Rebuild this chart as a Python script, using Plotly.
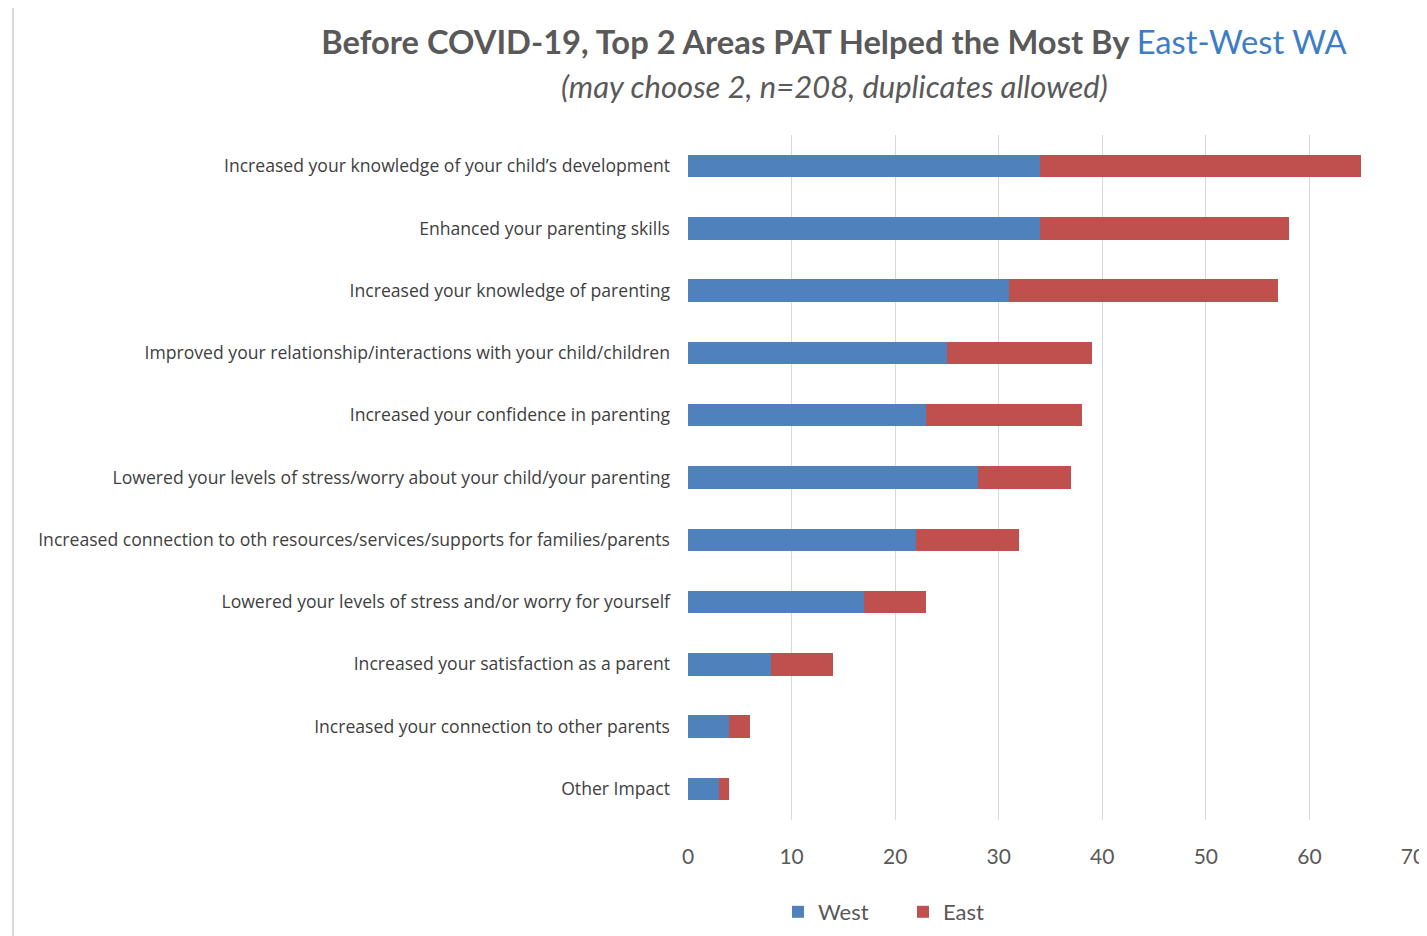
import plotly.graph_objects as go

categories = [
    "Increased your knowledge of your child\u2019s development",
    "Enhanced your parenting skills",
    "Increased your knowledge of parenting",
    "Improved your relationship/interactions with your child/children",
    "Increased your confidence in parenting",
    "Lowered your levels of stress/worry about your child/your parenting",
    "Increased connection to oth resources/services/supports for families/parents",
    "Lowered your levels of stress and/or worry for yourself",
    "Increased your satisfaction as a parent",
    "Increased your connection to other parents",
    "Other Impact",
]
west = [34, 34, 31, 25, 23, 28, 22, 17, 8, 4, 3]
east = [31, 24, 26, 14, 15, 9, 10, 6, 6, 2, 1]
x_ticks = [0, 10, 20, 30, 40, 50, 60, 70]

# page body has an 8px margin, so the figure sits at (8, 8)
OFF = 8
W, H = 1427 - OFF, 936 - OFF
L, R, T, B = 688 - OFF, 14, 135 - OFF, 936 - 820
PW, PH = W - L - R, H - T - B


def px_x(x):
    return (x - OFF - L) / PW


def px_y(y):
    return (H - B - (y - OFF)) / PH


fig = go.Figure()
fig.add_trace(go.Bar(y=categories, x=west, name="West", orientation="h",
                     marker=dict(color="#4F81BD", line=dict(width=0))))
fig.add_trace(go.Bar(y=categories, x=east, name="East", orientation="h",
                     marker=dict(color="#C0504D", line=dict(width=0))))

fig.update_layout(
    width=W, height=H,
    barmode="stack", bargap=0.64,
    margin=dict(l=L, r=R, t=T, b=B, autoexpand=False),
    paper_bgcolor="white", plot_bgcolor="white",
    font=dict(family="Lato, Open Sans, sans-serif", color="#404040"),
    title=dict(
        text="<b>Before COVID-19, Top 2 Areas PAT Helped the Most By </b><span style='color:#3D7DC3'>East-West WA</span>",
        x=(834 - OFF) / W, xanchor="center", y=1 - (43 - OFF) / H, yanchor="middle",
        font=dict(size=32.7, color="#595959", family="Lato, Open Sans, sans-serif"),
    ),
    legend=dict(orientation="h", x=px_x(778), xanchor="left",
                y=px_y(912), yanchor="middle",
                font=dict(size=22, color="#595959"), traceorder="normal",
                itemwidth=30, entrywidth=80),
    showlegend=True,
)
fig.add_annotation(
    text="<i>(may choose 2, n=208, duplicates allowed)</i>",
    xref="paper", yref="paper",
    x=px_x(834), y=px_y(86),
    xanchor="center", yanchor="middle", showarrow=False,
    font=dict(size=31, color="#595959"),
)
# faint frame edge on the left of the picture
fig.add_shape(type="line", xref="paper", yref="paper",
              x0=px_x(13), x1=px_x(13), y0=px_y(3), y1=px_y(940),
              line=dict(color="#DADADA", width=2))
fig.update_xaxes(range=[0, 70], tickvals=x_ticks, showgrid=True, gridcolor="#D9D9D9",
                 gridwidth=1, zeroline=False, showline=False, automargin=False,
                 tickfont=dict(size=21, color="#595959"), ticklabelstandoff=22)
fig.update_yaxes(autorange="reversed", showgrid=False, showline=False, automargin=False,
                 tickfont=dict(size=17.6, color="#404040", family="Open Sans, sans-serif"),
                 ticklabelstandoff=17)

fig.write_html("out.html")
